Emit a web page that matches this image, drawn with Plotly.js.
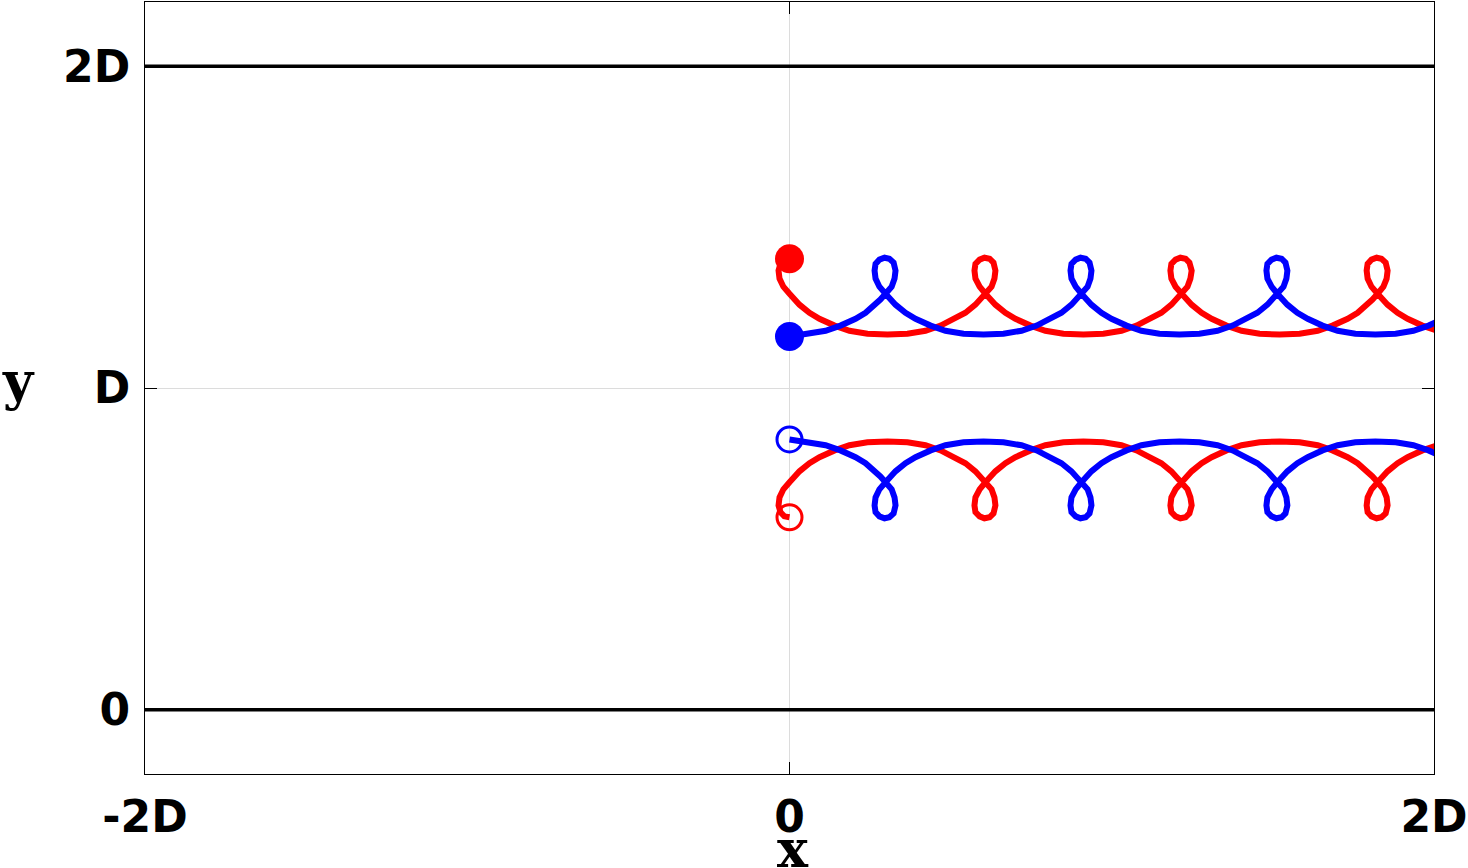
<!DOCTYPE html>
<html>
<head>
<meta charset="utf-8">
<title>Vortex pair trajectories</title>
<script src="https://cdn.plot.ly/plotly-3.0.1.min.js"></script>
<style>
  html, body { margin: 0; padding: 0; background: #ffffff; }
  #chart { width: 1468px; height: 868px; }
</style>
</head>
<body>
<div id="chart"></div>
<script>
/* -----------------------------
   Data (in units of D)
----------------------------- */
// blue trajectory, x positions (shared by the upper and the mirrored lower blue path)
var blueX = [
  0, 0.056, 0.112, 0.158, 0.205, 0.236, 0.267, 0.282, 0.298,
  0.317, 0.326, 0.329, 0.323, 0.310, 0.295, 0.279, 0.267, 0.264, 0.267, 0.279, 0.298,
  0.313, 0.329, 0.360, 0.391, 0.438, 0.484, 0.540, 0.602, 0.664, 0.720, 0.767, 0.813, 0.844, 0.875, 0.891, 0.906,
  0.925, 0.934, 0.937, 0.931, 0.919, 0.903, 0.888, 0.875, 0.872, 0.875, 0.888, 0.906,
  0.922, 0.937, 0.968, 0.999, 1.046, 1.092, 1.148, 1.210, 1.272, 1.328, 1.375, 1.421, 1.452, 1.483, 1.499, 1.514,
  1.533, 1.542, 1.545, 1.539, 1.527, 1.511, 1.496, 1.483, 1.480, 1.483, 1.496, 1.514,
  1.530, 1.545, 1.576, 1.608, 1.654, 1.701, 1.756, 1.818, 1.881, 1.936, 1.983, 2.030
];
var blueTopY = [
  1.160, 1.169, 1.178, 1.194, 1.215, 1.234, 1.259, 1.275, 1.293,
  1.315, 1.340, 1.365, 1.390, 1.402, 1.405, 1.399, 1.386, 1.365, 1.340, 1.315, 1.293,
  1.275, 1.259, 1.234, 1.215, 1.194, 1.178, 1.169, 1.166, 1.169, 1.178, 1.194, 1.215, 1.234, 1.259, 1.275, 1.293,
  1.315, 1.340, 1.365, 1.390, 1.402, 1.405, 1.399, 1.386, 1.365, 1.340, 1.315, 1.293,
  1.275, 1.259, 1.234, 1.215, 1.194, 1.178, 1.169, 1.166, 1.169, 1.178, 1.194, 1.215, 1.234, 1.259, 1.275, 1.293,
  1.315, 1.340, 1.365, 1.390, 1.402, 1.405, 1.399, 1.386, 1.365, 1.340, 1.315, 1.293,
  1.275, 1.259, 1.234, 1.215, 1.194, 1.178, 1.169, 1.166, 1.169, 1.178, 1.194, 1.215
];
var blueBotY = [
  0.840, 0.831, 0.822, 0.806, 0.785, 0.766, 0.741, 0.725, 0.707,
  0.685, 0.660, 0.635, 0.610, 0.598, 0.595, 0.601, 0.614, 0.635, 0.660, 0.685, 0.707,
  0.725, 0.741, 0.766, 0.785, 0.806, 0.822, 0.831, 0.834, 0.831, 0.822, 0.806, 0.785, 0.766, 0.741, 0.725, 0.707,
  0.685, 0.660, 0.635, 0.610, 0.598, 0.595, 0.601, 0.614, 0.635, 0.660, 0.685, 0.707,
  0.725, 0.741, 0.766, 0.785, 0.806, 0.822, 0.831, 0.834, 0.831, 0.822, 0.806, 0.785, 0.766, 0.741, 0.725, 0.707,
  0.685, 0.660, 0.635, 0.610, 0.598, 0.595, 0.601, 0.614, 0.635, 0.660, 0.685, 0.707,
  0.725, 0.741, 0.766, 0.785, 0.806, 0.822, 0.831, 0.834, 0.831, 0.822, 0.806, 0.785
];

// red trajectory, x positions (shared by the upper and the mirrored lower red path)
var redX = [
  0, -0.016, -0.028, -0.034, -0.031, -0.019, 0,
  0.016, 0.031, 0.062, 0.093, 0.140, 0.186, 0.242, 0.304, 0.366, 0.422, 0.469, 0.515, 0.546, 0.577, 0.593, 0.608,
  0.627, 0.636, 0.639, 0.633, 0.621, 0.605, 0.590, 0.577, 0.574, 0.577, 0.590, 0.608,
  0.624, 0.639, 0.670, 0.701, 0.748, 0.794, 0.850, 0.912, 0.974, 1.030, 1.077, 1.123, 1.154, 1.185, 1.201, 1.217,
  1.235, 1.244, 1.248, 1.241, 1.229, 1.213, 1.198, 1.185, 1.182, 1.185, 1.198, 1.217,
  1.232, 1.248, 1.279, 1.310, 1.356, 1.403, 1.459, 1.521, 1.583, 1.639, 1.685, 1.732, 1.763, 1.794, 1.809, 1.825,
  1.843, 1.853, 1.856, 1.850, 1.837, 1.822, 1.806, 1.794, 1.791, 1.794, 1.806, 1.825,
  1.840, 1.856, 1.887, 1.918, 1.964, 2.011
];
var redTopY = [
  1.402, 1.399, 1.386, 1.365, 1.340, 1.315, 1.293,
  1.275, 1.259, 1.234, 1.215, 1.194, 1.178, 1.169, 1.166, 1.169, 1.178, 1.194, 1.215, 1.234, 1.259, 1.275, 1.293,
  1.315, 1.340, 1.365, 1.390, 1.402, 1.405, 1.399, 1.386, 1.365, 1.340, 1.315, 1.293,
  1.275, 1.259, 1.234, 1.215, 1.194, 1.178, 1.169, 1.166, 1.169, 1.178, 1.194, 1.215, 1.234, 1.259, 1.275, 1.293,
  1.315, 1.340, 1.365, 1.390, 1.402, 1.405, 1.399, 1.386, 1.365, 1.340, 1.315, 1.293,
  1.275, 1.259, 1.234, 1.215, 1.194, 1.178, 1.169, 1.166, 1.169, 1.178, 1.194, 1.215, 1.234, 1.259, 1.275, 1.293,
  1.315, 1.340, 1.365, 1.390, 1.402, 1.405, 1.399, 1.386, 1.365, 1.340, 1.315, 1.293,
  1.275, 1.259, 1.234, 1.215, 1.194, 1.178
];
var redBotY = [
  0.598, 0.601, 0.614, 0.635, 0.660, 0.685, 0.707,
  0.725, 0.741, 0.766, 0.785, 0.806, 0.822, 0.831, 0.834, 0.831, 0.822, 0.806, 0.785, 0.766, 0.741, 0.725, 0.707,
  0.685, 0.660, 0.635, 0.610, 0.598, 0.595, 0.601, 0.614, 0.635, 0.660, 0.685, 0.707,
  0.725, 0.741, 0.766, 0.785, 0.806, 0.822, 0.831, 0.834, 0.831, 0.822, 0.806, 0.785, 0.766, 0.741, 0.725, 0.707,
  0.685, 0.660, 0.635, 0.610, 0.598, 0.595, 0.601, 0.614, 0.635, 0.660, 0.685, 0.707,
  0.725, 0.741, 0.766, 0.785, 0.806, 0.822, 0.831, 0.834, 0.831, 0.822, 0.806, 0.785, 0.766, 0.741, 0.725, 0.707,
  0.685, 0.660, 0.635, 0.610, 0.598, 0.595, 0.601, 0.614, 0.635, 0.660, 0.685, 0.707,
  0.725, 0.741, 0.766, 0.785, 0.806, 0.822
];

// walls of the channel
var wallY = [0, 2];

// ticks
var xTickVals = [-2, 0, 2];
var xTickText = ['-2D', '0', '2D'];
var yTickVals = [0, 1, 2];
var yTickText = ['0', 'D', '2D'];

/* -----------------------------
   Traces
----------------------------- */
var RED = '#ff0000';
var BLUE = '#0000ff';
var LW = 6;

function pathTrace(xs, ys, color) {
  return {
    x: xs, y: ys, type: 'scatter', mode: 'lines',
    line: { color: color, width: LW },
    hoverinfo: 'skip', showlegend: false
  };
}

function startTrace(xs, ys, color, open) {
  return {
    x: [xs[0]], y: [ys[0]], type: 'scatter', mode: 'markers',
    marker: open
      ? { symbol: 'circle-open', size: 25, color: color, line: { width: 3, color: color } }
      : { symbol: 'circle', size: 29, color: color },
    hoverinfo: 'skip', showlegend: false
  };
}

var traces = [
  pathTrace(redX, redTopY, RED),
  pathTrace(redX, redBotY, RED),
  pathTrace(blueX, blueTopY, BLUE),
  pathTrace(blueX, blueBotY, BLUE),
  startTrace(redX, redTopY, RED, false),
  startTrace(blueX, blueTopY, BLUE, false),
  startTrace(blueX, blueBotY, BLUE, true),
  startTrace(redX, redBotY, RED, true)
];

// channel walls as horizontal black lines
var shapes = wallY.map(function (w) {
  return {
    type: 'line', xref: 'paper', x0: 0, x1: 1, yref: 'y', y0: w, y1: w,
    line: { color: '#000000', width: 3.5 }, layer: 'above'
  };
});

/* -----------------------------
   Layout
----------------------------- */
var tickFont = { family: 'DejaVu Sans', size: 44, color: '#000000', weight: 'bold' };
var titleFont = { family: 'DejaVu Serif', size: 52, color: '#000000', weight: 'bold' };

var axisCommon = {
  showgrid: true, gridcolor: '#dcdcdc', gridwidth: 1,
  zeroline: false,
  showline: true, linecolor: '#000000', linewidth: 1, mirror: 'ticks',
  ticks: 'inside', ticklen: 12, tickwidth: 1, tickcolor: '#000000',
  tickfont: tickFont, tickmode: 'array', fixedrange: true
};

var layout = {
  width: 1468, height: 868,
  margin: { l: 145, r: 34, t: 2, b: 94 },
  paper_bgcolor: '#ffffff', plot_bgcolor: '#ffffff',
  xaxis: Object.assign({}, axisCommon, {
    range: [-2, 2], tickvals: xTickVals, ticktext: xTickText, ticklabelstandoff: 4
  }),
  yaxis: Object.assign({}, axisCommon, {
    range: [-0.2, 2.2], tickvals: yTickVals, ticktext: yTickText, ticklabelstandoff: 5
  }),
  shapes: shapes,
  annotations: [
    { text: 'x', xref: 'paper', yref: 'paper', x: 0.503, y: -0.097,
      xanchor: 'center', yanchor: 'middle', showarrow: false, font: titleFont },
    { text: 'y', xref: 'paper', yref: 'paper', x: -0.0985, y: 0.51,
      xanchor: 'center', yanchor: 'middle', showarrow: false, font: titleFont }
  ],
  showlegend: false
};

Plotly.newPlot('chart', traces, layout, { staticPlot: true, displayModeBar: false });
</script>
</body>
</html>
